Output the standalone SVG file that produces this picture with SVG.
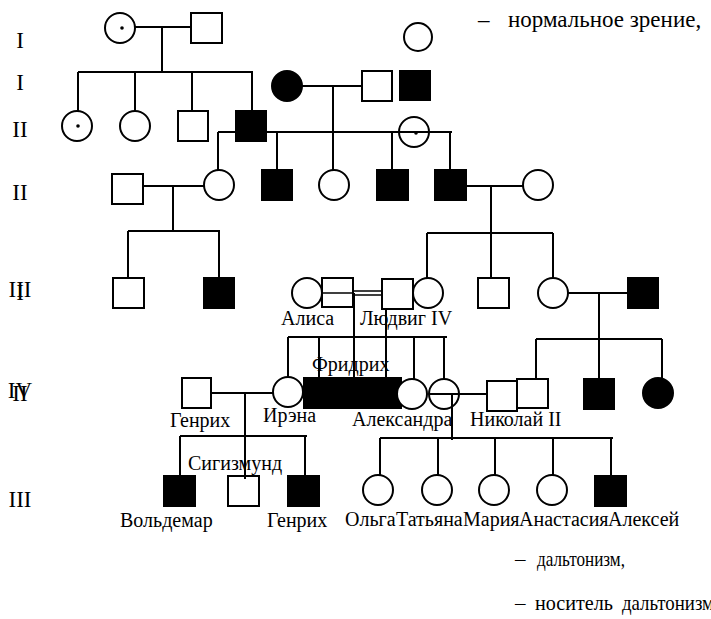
<svg xmlns="http://www.w3.org/2000/svg" width="711" height="619" viewBox="0 0 711 619">
<style>
.o{fill:#fff;stroke:#000;stroke-width:2}
.f{fill:#000;stroke:#000;stroke-width:2}
.d{fill:#000;stroke:none}
.ln{stroke:#000;stroke-width:2;fill:none}
.ln2{stroke:#000;stroke-width:1.4;fill:none}
text{font-family:"Liberation Serif","Times New Roman",serif;fill:#000}
.nm{font-size:20px}
.rn{font-size:23px;text-anchor:middle}
.lg1{font-size:23px}
.lg2{font-size:21px}
</style>
<rect width="711" height="619" fill="#fff"/>
<g id="generation-labels">
<text class="rn" x="20" y="48">I</text>
<text class="rn" x="20" y="90">I</text>
<text class="rn" x="20" y="137">II</text>
<text class="rn" x="20" y="200">II</text>
<text class="rn" x="20" y="297">III</text>
<text class="rn" x="20" y="300">I</text>
<text class="rn" x="20" y="398">IV</text>
<text class="rn" x="20" y="401">II</text>
<text class="rn" x="20" y="507">III</text>
</g>
<g id="legend">
<circle class="o" cx="418" cy="37" r="14"/>
<text class="lg1" x="478" y="27">–</text>
<text class="lg1" x="508" y="27">нормальное зрение,</text>
<rect class="f" x="400" y="71" width="30" height="29"/>
<text class="lg2" x="515" y="566">–</text>
<text class="lg2" x="537" y="566" textLength="88" lengthAdjust="spacingAndGlyphs">дальтонизм,</text>
<text class="lg2" x="515" y="610">–</text>
<text class="lg2" x="535" y="610" textLength="78" lengthAdjust="spacingAndGlyphs">носитель</text>
<text class="lg2" x="622" y="610" textLength="92" lengthAdjust="spacingAndGlyphs">дальтонизм</text>
</g>
<g id="n-g1-mother"><circle class="o" cx="120" cy="28" r="15"/><circle class="d" cx="122" cy="28" r="1.8"/></g>
<g id="n-g1-father"><rect class="o" x="191" y="13" width="31" height="30"/></g>
<g id="n-g2-wife"><circle class="f" cx="287" cy="86" r="15"/></g>
<g id="n-g2-husband"><rect class="o" x="362" y="71" width="30" height="30"/></g>
<g id="n-g2-d1"><circle class="o" cx="77" cy="126" r="15"/><circle class="d" cx="78" cy="126" r="1.8"/></g>
<g id="n-g2-d2"><circle class="o" cx="135" cy="126" r="15"/></g>
<g id="n-g2-s1"><rect class="o" x="178" y="111" width="30" height="30"/></g>
<g id="n-g2-s2"><rect class="f" x="236" y="111" width="30" height="30"/></g>
<g id="n-g2-carrier"><circle class="o" cx="414" cy="132" r="15"/><circle class="d" cx="416" cy="133" r="1.8"/></g>
<g id="n-g3-husband"><rect class="o" x="112" y="174" width="31" height="30"/></g>
<g id="n-g3-wife"><circle class="o" cx="219" cy="185" r="15"/></g>
<g id="n-g3-s1"><rect class="f" x="262" y="170" width="30" height="30"/></g>
<g id="n-g3-d1"><circle class="o" cx="334" cy="185" r="15"/></g>
<g id="n-g3-s2"><rect class="f" x="377" y="170" width="31" height="30"/></g>
<g id="n-g3-s3"><rect class="f" x="435" y="170" width="31" height="30"/></g>
<g id="n-g3-wife2"><circle class="o" cx="538" cy="185" r="15"/></g>
<g id="n-g4-s1"><rect class="o" x="113" y="278" width="31" height="30"/></g>
<g id="n-g4-s2"><rect class="f" x="204" y="278" width="30" height="30"/></g>
<g id="n-alisa"><circle class="o" cx="307" cy="293" r="15"/><rect class="o" x="322" y="278" width="31" height="29"/><text class="nm" x="281" y="325">Алиса</text></g>
<g id="n-ludwig"><rect class="o" x="382" y="279" width="31" height="30"/><text class="nm" x="360" y="325">Людвиг IV</text></g>
<g id="n-g4-d1"><circle class="o" cx="428" cy="293" r="15"/></g>
<g id="n-g4-s3"><rect class="o" x="478" y="278" width="31" height="30"/></g>
<g id="n-g4-d2"><circle class="o" cx="553" cy="293" r="15"/></g>
<g id="n-g4-husband"><rect class="f" x="628" y="278" width="30" height="30"/></g>
<g id="n-genrikh"><rect class="o" x="182" y="378" width="29" height="30"/><text class="nm" x="170" y="427">Генрих</text></g>
<g id="n-irena"><circle class="o" cx="288" cy="392" r="15"/><text class="nm" x="263" y="422">Ирэна</text></g>
<g id="n-fridrih"><rect class="f" x="304" y="378" width="31" height="30"/><rect class="f" x="337" y="378" width="31" height="30"/><rect class="f" x="370" y="378" width="31" height="30"/><text class="nm" x="312" y="371">Фридрих</text></g>
<g id="n-alexandra"><circle class="o" cx="412" cy="394" r="15"/><circle class="o" cx="444" cy="394" r="15"/><text class="nm" x="352" y="426">Александра</text></g>
<g id="n-nikolai"><rect class="o" x="487" y="381" width="30" height="30"/><rect class="o" x="517" y="379" width="31" height="29"/><text class="nm" x="470" y="426">Николай II</text></g>
<g id="n-g5-s"><rect class="f" x="584" y="379" width="30" height="30"/></g>
<g id="n-g5-d"><circle class="f" cx="658" cy="393" r="15"/></g>
<g id="n-voldemar"><rect class="f" x="164" y="476" width="31" height="30"/><text class="nm" x="120" y="527">Вольдемар</text></g>
<g id="n-sigizmund"><rect class="o" x="228" y="476" width="31" height="30"/><text class="nm" x="188" y="470">Сигизмунд</text></g>
<g id="n-genrikh2"><rect class="f" x="288" y="476" width="31" height="30"/><text class="nm" x="267" y="527">Генрих</text></g>
<g id="n-olga"><circle class="o" cx="378" cy="490" r="15"/><text class="nm" x="345" y="526">Ольга</text></g>
<g id="n-tatiana"><circle class="o" cx="437" cy="490" r="15"/><text class="nm" x="396" y="526">Татьяна</text></g>
<g id="n-maria"><circle class="o" cx="494" cy="490" r="15"/><text class="nm" x="463" y="526">Мария</text></g>
<g id="n-anastasia"><circle class="o" cx="552" cy="490" r="15"/><text class="nm" x="519" y="526">Анастасия</text></g>
<g id="n-alexei"><rect class="f" x="595" y="476" width="31" height="30"/><text class="nm" x="608" y="526">Алексей</text></g>
<g id="connectors">
<path class="ln" d="M135,27H191M162,27V72M78,72H253M78,72V111M135,72V111M192,72V111M252,72V111"/>
<path class="ln" d="M302,86H362M333,86V132M218,132H452M218,132V170M277,132V170M333,132V170M392,132V170M450,132V170"/>
<path class="ln" d="M143,186H204M173,186V231M128,231H220M128,231V278M219,231V278"/>
<path class="ln" d="M466,186H523M491,186V233M427,233H553M427,233V278M491,233V278M553,233V278"/>
<path class="ln2" d="M322,293H353M353,291H382M353,295H382"/>
<path class="ln" d="M354,293V378M386,309V378M288,337H447M288,337V377M319,337V378M414,337V379M444,337V379"/>
<path class="ln" d="M211,393H273M245,393V479M180,436H307M180,436V476M305,436V476"/>
<path class="ln" d="M430,394H487M452,394V440M380,438H613M380,438V475M438,438V475M495,438V475M553,438V475M611,438V476"/>
<path class="ln" d="M568,293H628M599,293V339M536,339H662M536,339V379M599,339V379M662,339V378"/>
</g>
</svg>
